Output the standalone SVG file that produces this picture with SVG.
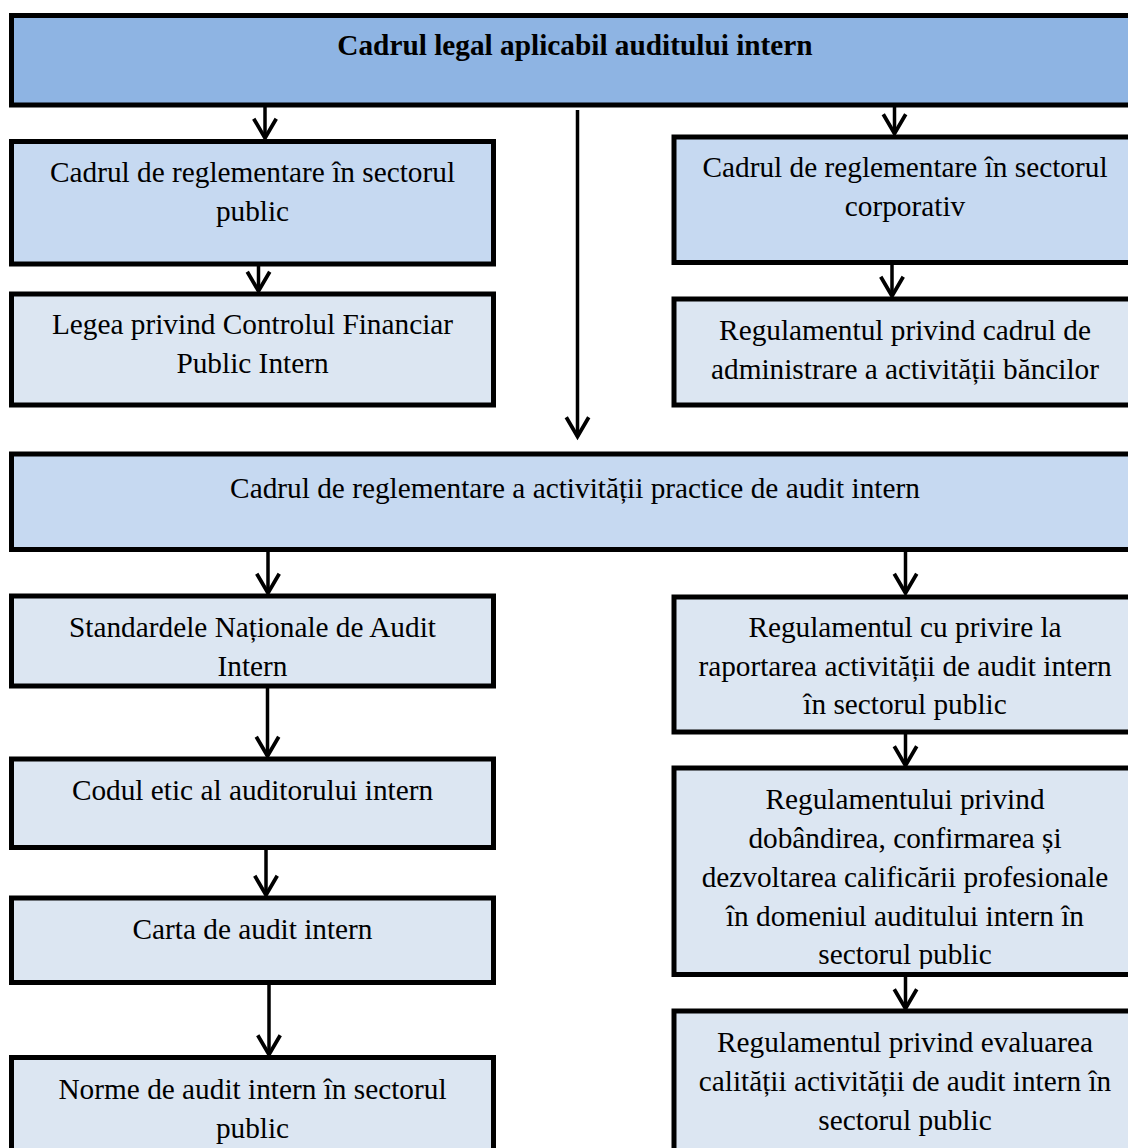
<svg xmlns="http://www.w3.org/2000/svg" width="1128" height="1148" viewBox="0 0 1128 1148">
<style>
.box{stroke:#000;stroke-width:5}
.b0{fill:#8EB4E3}
.b1{fill:#C6D9F1}
.b2{fill:#DCE6F2}
.t{font-family:"Liberation Serif","Times New Roman",serif;font-size:29.3px;fill:#000;text-anchor:middle}
.tb{font-weight:bold}
.c{stroke:#000;stroke-width:3.5;fill:none}
</style>
<defs>
<marker id="arr" markerUnits="userSpaceOnUse" orient="auto" refX="0" refY="0" markerWidth="30" markerHeight="30" viewBox="-22 -14 26 28" overflow="visible">
<path d="M-18,-10.5 L0,0 L-18,10.5" fill="none" stroke="#000" stroke-width="3.5"/>
</marker>
<clipPath id="clipDob"><rect x="676" y="770" width="460" height="199"/></clipPath>
</defs>
<rect width="1128" height="1148" fill="#fff"/>
<g id="connectors">
<line class="c" x1="265" y1="107" x2="265" y2="138" marker-end="url(#arr)"/>
<line class="c" x1="894.5" y1="107" x2="894.5" y2="133.5" marker-end="url(#arr)"/>
<line class="c" x1="577.5" y1="110" x2="577.5" y2="436.5" marker-end="url(#arr)"/>
<line class="c" x1="258.5" y1="266" x2="258.5" y2="291" marker-end="url(#arr)"/>
<line class="c" x1="892" y1="265" x2="892" y2="296" marker-end="url(#arr)"/>
<line class="c" x1="268" y1="552" x2="268" y2="593" marker-end="url(#arr)"/>
<line class="c" x1="905.5" y1="552" x2="905.5" y2="593" marker-end="url(#arr)"/>
<line class="c" x1="267.5" y1="688" x2="267.5" y2="756" marker-end="url(#arr)"/>
<line class="c" x1="266" y1="850" x2="266" y2="895" marker-end="url(#arr)"/>
<line class="c" x1="269" y1="985" x2="269" y2="1054.5" marker-end="url(#arr)"/>
<line class="c" x1="905.5" y1="734" x2="905.5" y2="765.5" marker-end="url(#arr)"/>
<line class="c" x1="905.5" y1="977" x2="905.5" y2="1008.5" marker-end="url(#arr)"/>
</g>
<g id="n-top">
<rect class="box b0" x="11.5" y="15.5" width="1127" height="89.5"/>
<text class="t tb" x="575" y="55">Cadrul legal aplicabil auditului intern</text>
</g>
<g id="n-public">
<rect class="box b1" x="11.5" y="141.5" width="482" height="122.5"/>
<text class="t" x="252.5" y="182">Cadrul de reglementare în sectorul</text>
<text class="t" x="252.5" y="221">public</text>
</g>
<g id="n-legea">
<rect class="box b2" x="11.5" y="294" width="482" height="111"/>
<text class="t" x="252.5" y="334">Legea privind Controlul Financiar</text>
<text class="t" x="252.5" y="373">Public Intern</text>
</g>
<g id="n-corporativ">
<rect class="box b1" x="674" y="137" width="464" height="125.5"/>
<text class="t" x="905" y="177">Cadrul de reglementare în sectorul</text>
<text class="t" x="905" y="216">corporativ</text>
</g>
<g id="n-banci">
<rect class="box b2" x="674" y="299" width="464" height="106"/>
<text class="t" x="905" y="340">Regulamentul privind cadrul de</text>
<text class="t" x="905" y="379">administrare a activității băncilor</text>
</g>
<g id="n-practice">
<rect class="box b1" x="11.5" y="454" width="1127" height="95.5"/>
<text class="t" x="575" y="498">Cadrul de reglementare a activității practice de audit intern</text>
</g>
<g id="n-standarde">
<rect class="box b2" x="11.5" y="596" width="482" height="90"/>
<text class="t" x="252.5" y="637">Standardele Naționale de Audit</text>
<text class="t" x="252.5" y="676">Intern</text>
</g>
<g id="n-codul">
<rect class="box b2" x="11.5" y="759" width="482" height="88.5"/>
<text class="t" x="252.5" y="800">Codul etic al auditorului intern</text>
</g>
<g id="n-carta">
<rect class="box b2" x="11.5" y="898" width="482" height="84.5"/>
<text class="t" x="252.5" y="939">Carta de audit intern</text>
</g>
<g id="n-norme">
<rect class="box b2" x="11.5" y="1057.5" width="482" height="100"/>
<text class="t" x="252.5" y="1099">Norme de audit intern în sectorul</text>
<text class="t" x="252.5" y="1138">public</text>
</g>
<g id="n-raportare">
<rect class="box b2" x="674" y="597" width="464" height="135"/>
<text class="t" x="905" y="637">Regulamentul cu privire la</text>
<text class="t" x="905" y="676">raportarea activității de audit intern</text>
<text class="t" x="905" y="714">în sectorul public</text>
</g>
<g id="n-calificare">
<rect class="b2" x="674" y="768" width="464" height="206.5"/>
<g clip-path="url(#clipDob)">
<text class="t" x="905" y="809">Regulamentului privind</text>
<text class="t" x="905" y="848">dobândirea, confirmarea și</text>
<text class="t" x="905" y="887">dezvoltarea calificării profesionale</text>
<text class="t" x="905" y="926">în domeniul auditului intern în</text>
<text class="t" x="905" y="964">sectorul public</text>
</g>
<rect class="box" fill="none" x="674" y="768" width="464" height="206.5"/>
</g>
<g id="n-evaluare">
<rect class="box b2" x="674" y="1011" width="464" height="150"/>
<text class="t" x="905" y="1052">Regulamentul privind evaluarea</text>
<text class="t" x="905" y="1091">calității activității de audit intern în</text>
<text class="t" x="905" y="1130">sectorul public</text>
</g>
</svg>
